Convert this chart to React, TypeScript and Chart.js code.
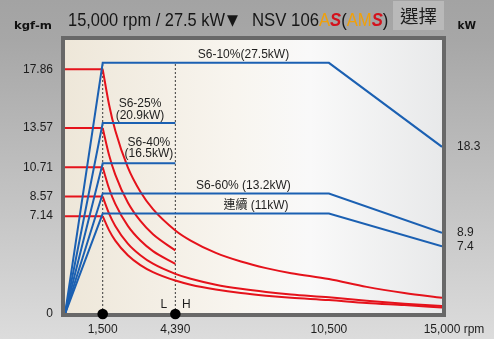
import React, { useEffect, useRef } from 'react';
import { Chart, registerables } from 'chart.js';

Chart.register(...registerables);

// ---------- data ----------
const xTickRpm = [1500, 4390, 10500, 15000];
const torqueTicks = [0, 7.14, 8.57, 10.71, 13.57, 17.86];
const powerTicks = [7.4, 8.9, 18.3];

const flatRpm = [0, 1500];
const baseTorque = [17.86, 13.57, 10.71, 8.57, 7.14];

const curveRpmLong = [1500, 1750, 2000, 2500, 3000, 3500, 4390, 5000, 6000, 7000, 8000, 9000, 10500, 12000, 13500, 15000];
const curveRpmShort = [1500, 1750, 2000, 2500, 3000, 3500, 4390];
const torque10 = [17.86, 15.31, 13.39, 10.71, 8.93, 7.65, 6.1, 5.36, 4.46, 3.83, 3.35, 2.98, 2.55, 1.98, 1.54, 1.19];
const torque25 = [13.57, 11.63, 10.18, 8.14, 6.79, 5.82, 4.64];
const torque40 = [10.71, 9.18, 8.04, 6.43, 5.36, 4.59, 3.66];
const torque60 = [8.57, 7.35, 6.43, 5.14, 4.29, 3.67, 2.93, 2.57, 2.14, 1.84, 1.61, 1.43, 1.22, 0.96, 0.75, 0.58];
const torqueCont = [7.14, 6.12, 5.36, 4.29, 3.57, 3.06, 2.44, 2.14, 1.79, 1.53, 1.34, 1.19, 1.02, 0.8, 0.65, 0.48];

const powerRpmLong = [0, 1500, 10500, 15000];
const powerRpmShort = [0, 1500, 4390];
const power10 = [0, 27.5, 27.5, 18.3];
const power25 = [0, 20.9, 20.9];
const power40 = [0, 16.5, 16.5];
const power60 = [0, 13.2, 13.2, 8.9];
const powerCont = [0, 11, 11, 7.4];

const markerRpm = [1500, 4390];
const markerLevel = [0, 0];
const guideKw = [0, 27.5];

const seriesLabels = [
  ['S6-10%(27.5kW)'],
  ['S6-25%', '(20.9kW)'],
  ['S6-40%', '(16.5kW)'],
  ['S6-60% (13.2kW)'],
  ['連續 (11kW)'],
];
const seriesPower = [27.5, 20.9, 16.5, 13.2, 11];

// ---------- helpers ----------
const RED = '#e5121b';
const BLUE = '#1b60b2';
const TEXT = '#1e1e1e';
const FONT = '"Liberation Sans", Arial, "Noto Sans CJK TC", sans-serif';

function zip(xs: number[], ys: number[]) {
  return xs.map((x, i) => ({ x, y: ys[i] }));
}
function fmt(v: number) {
  return String(Math.round(v)).replace(/\B(?=(\d{3})+(?!\d))/g, ',');
}
function fitText(ctx: CanvasRenderingContext2D, text: string, x: number, y: number, w: number, font: string, color: string, baseline: CanvasTextBaseline = 'alphabetic') {
  ctx.save();
  ctx.font = font;
  ctx.fillStyle = color;
  ctx.textAlign = 'left';
  ctx.textBaseline = baseline;
  const m = ctx.measureText(text).width || 1;
  ctx.translate(x, y);
  ctx.scale(w / m, 1);
  ctx.fillText(text, 0, 0);
  ctx.restore();
}

const labelLayout = [
  { rpm: 7100, dy: [-8] },
  { rpm: 2985, dy: [-19, -7] },
  { rpm: 3340, dy: [-21, -9.5] },
  { rpm: 7100, dy: [-8] },
  { rpm: 7600, dy: [-7.5] },
];

const decor = {
  id: 'decor',
  beforeDraw(chart: any) {
    const { ctx, width, height, chartArea: a } = chart;
    ctx.save();
    const g = ctx.createLinearGradient(0, 0, 0, height);
    g.addColorStop(0, '#a3a3a3');
    g.addColorStop(0.12, '#a7a7a7');
    g.addColorStop(1, '#dcdcdc');
    ctx.fillStyle = g;
    ctx.fillRect(0, 0, width, height);
    const p = ctx.createLinearGradient(a.left, 0, a.right, 0);
    p.addColorStop(0, '#eee7d9');
    p.addColorStop(0.45, '#f8f5ef');
    p.addColorStop(0.65, '#f9f9f9');
    p.addColorStop(1, '#e8e9ea');
    ctx.fillStyle = p;
    ctx.fillRect(a.left, a.top, a.right - a.left, a.bottom - a.top);
    ctx.restore();
  },
  beforeDatasetDraw(chart: any, args: any) {
    if (args.index !== 0) return;
    const { ctx, chartArea: a } = chart;
    ctx.save();
    ctx.strokeStyle = '#686868';
    ctx.lineWidth = 4;
    ctx.strokeRect(a.left - 2, a.top - 2, a.right - a.left + 4, a.bottom - a.top + 3);
    ctx.restore();
  },
  afterDraw(chart: any) {
    const { ctx, chartArea: a, scales } = chart;
    const xs = scales.x;
    const y2 = scales.y2;
    ctx.save();
    // series labels
    ctx.font = `12px ${FONT}`;
    ctx.fillStyle = TEXT;
    ctx.textAlign = 'center';
    ctx.textBaseline = 'middle';
    seriesLabels.forEach((lines, i) => {
      const L = labelLayout[i];
      const px = xs.getPixelForValue(L.rpm);
      const py = y2.getPixelForValue(seriesPower[i]);
      lines.forEach((t, j) => ctx.fillText(t, px, py + L.dy[j]));
    });
    // L / H
    const hx = xs.getPixelForValue(markerRpm[1]);
    ctx.fillText('L', hx - 11.5, a.bottom - 9);
    ctx.fillText('H', hx + 11, a.bottom - 9);
    // rpm unit
    ctx.textAlign = 'left';
    const ex = xs.getPixelForValue(xTickRpm[xTickRpm.length - 1]);
    ctx.font = `12px ${FONT}`;
    const w15 = ctx.measureText(fmt(xTickRpm[xTickRpm.length - 1])).width;
    ctx.fillText(' rpm', ex + w15 / 2, a.bottom + 8 + 7.2);
    ctx.restore();

    // header
    const hf = `18.5px ${FONT}`;
    fitText(ctx, '15,000 rpm / 27.5 kW', 68, 26, 157, hf, '#161616');
    fitText(ctx, '▼', 227, 25, 11, `15px "DejaVu Sans", ${FONT}`, '#161616');
    fitText(ctx, 'NSV 106', 252, 26, 67, hf, '#161616');
    const parts: [string, string, string][] = [
      ['A', '#f0a00a', hf],
      ['S', '#d4121c', `italic bold 18.5px ${FONT}`],
      ['(', '#161616', hf],
      ['AM', '#f0a00a', hf],
      ['S', '#d4121c', `italic bold 18.5px ${FONT}`],
      [')', '#161616', hf],
    ];
    let cx = 319;
    parts.forEach(([t, c, f]) => {
      ctx.save();
      ctx.font = f;
      const w = ctx.measureText(t).width * 0.9;
      ctx.restore();
      fitText(ctx, t, cx, 26, w, f, c);
      cx += w;
    });
    // button
    ctx.save();
    ctx.fillStyle = '#b9b9b9';
    ctx.fillRect(393, 1, 51, 29);
    ctx.restore();
    fitText(ctx, '選擇', 400, 16.5, 37, '18px "Noto Sans CJK TC", sans-serif', '#1e1e1e', 'middle');
    // axis unit titles
    fitText(ctx, 'kgf-m', 14, 29.3, 38, 'bold 10.5px "DejaVu Sans", sans-serif', '#111');
    fitText(ctx, 'kW', 457.5, 29.3, 18.5, 'bold 10.5px "DejaVu Sans", sans-serif', '#111');
  },
};

function lineDs(data: { x: number; y: number }[], color: string, axis: string, curve = false) {
  return {
    type: 'line' as const,
    data,
    borderColor: color,
    borderWidth: 2,
    pointRadius: 0,
    fill: false,
    yAxisID: axis,
    cubicInterpolationMode: curve ? ('monotone' as const) : ('default' as const),
    tension: curve ? 0.4 : 0,
  };
}

export default function App() {
  const ref = useRef<HTMLCanvasElement>(null);
  useEffect(() => {
    if (!ref.current) return;
    const datasets: any[] = [
      {
        type: 'scatter',
        data: zip(markerRpm, markerLevel),
        pointRadius: 5.3,
        pointBackgroundColor: '#000',
        pointBorderWidth: 0,
        yAxisID: 'y',
        clip: false,
        showLine: false,
      },
      // blue power lines
      lineDs(zip(powerRpmLong, power10), BLUE, 'y2'),
      lineDs(zip(powerRpmShort, power25), BLUE, 'y2'),
      lineDs(zip(powerRpmShort, power40), BLUE, 'y2'),
      lineDs(zip(powerRpmLong, power60), BLUE, 'y2'),
      lineDs(zip(powerRpmLong, powerCont), BLUE, 'y2'),
      // red torque curves
      lineDs(zip(curveRpmLong, torque10), RED, 'y', true),
      lineDs(zip(curveRpmShort, torque25), RED, 'y', true),
      lineDs(zip(curveRpmShort, torque40), RED, 'y', true),
      lineDs(zip(curveRpmLong, torque60), RED, 'y', true),
      lineDs(zip(curveRpmLong, torqueCont), RED, 'y', true),
      ...baseTorque.map((t) => lineDs(zip(flatRpm, [t, t]), RED, 'y')),
      // dotted guides
      ...markerRpm.map((r) => ({
        ...lineDs(zip([r, r], guideKw), '#3a3a3a', 'y2'),
        borderWidth: 1,
        borderDash: [2, 2],
      })),
    ];
    const tickFont = { family: FONT, size: 12 };
    const chart = new Chart(ref.current, {
      type: 'line',
      data: { datasets },
      options: {
        responsive: false,
        animation: false,
        events: [],
        layout: { padding: { top: 40, left: 0, right: 0, bottom: 0 } },
        plugins: { legend: { display: false }, tooltip: { enabled: false } },
        scales: {
          x: {
            type: 'linear',
            min: 0,
            max: 15000,
            position: 'bottom',
            grid: { display: false, drawTicks: false },
            border: { display: false },
            afterBuildTicks: (s: any) => {
              s.ticks = xTickRpm.map((v) => ({ value: v }));
            },
            afterFit: (s: any) => {
              s.height = 25;
            },
            ticks: {
              padding: 8,
              color: TEXT,
              font: tickFont,
              autoSkip: false,
              maxRotation: 0,
              callback: (v: any) => fmt(Number(v)),
            },
          },
          y: {
            type: 'linear',
            position: 'left',
            min: 0,
            max: 20,
            grid: { display: false, drawTicks: false },
            border: { display: false },
            afterBuildTicks: (s: any) => {
              s.ticks = torqueTicks.map((v) => ({ value: v }));
            },
            afterFit: (s: any) => {
              s.width = 65;
            },
            ticks: { padding: 12, color: TEXT, font: tickFont, autoSkip: false, callback: (v: any) => String(v) },
          },
          y2: {
            type: 'linear',
            position: 'right',
            min: 0,
            max: 30,
            grid: { display: false, drawTicks: false },
            border: { display: false },
            afterBuildTicks: (s: any) => {
              s.ticks = powerTicks.map((v) => ({ value: v }));
            },
            afterFit: (s: any) => {
              s.width = 52;
            },
            ticks: { padding: 15, color: TEXT, font: tickFont, autoSkip: false, callback: (v: any) => String(v) },
          },
        },
      } as any,
      plugins: [decor as any],
    });
    return () => chart.destroy();
  }, []);
  return (
    <div style={{ position: 'fixed', left: 0, top: 0, width: 494, height: 339 }}>
      <canvas ref={ref} width={494} height={339} style={{ display: 'block', width: 494, height: 339 }} />
    </div>
  );
}
